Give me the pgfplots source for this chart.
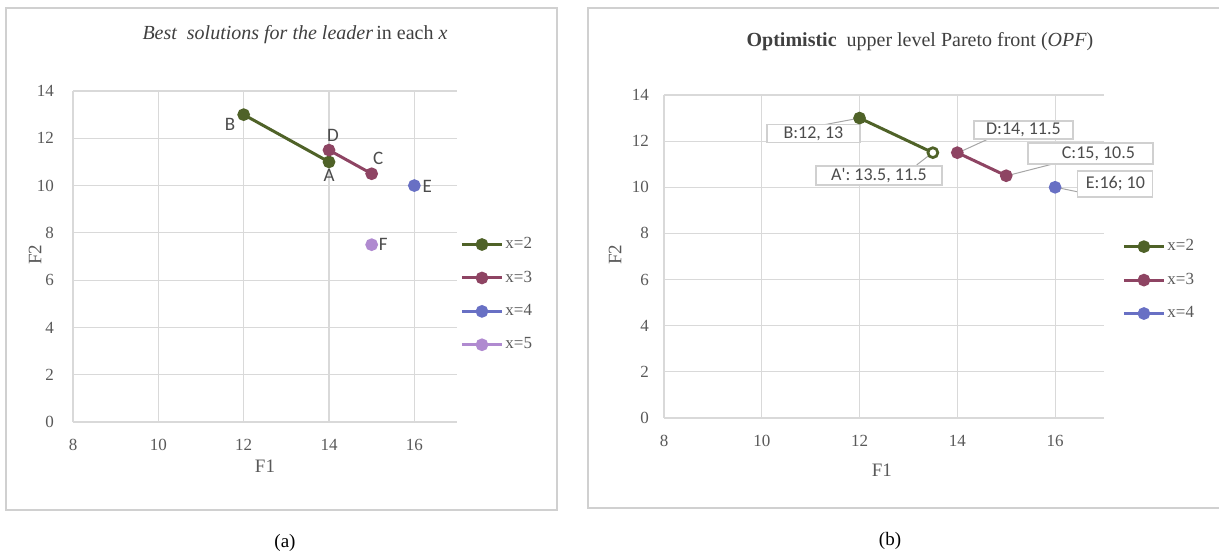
\documentclass[border=0pt]{standalone}
\usepackage{fontspec}
\setmainfont{Liberation Serif}
\newfontfamily\carl{Carlito}
\usepackage{pgfplots}
\pgfplotsset{compat=1.18}
\definecolor{cg}{HTML}{4F6228}
\definecolor{cr}{HTML}{8E4463}
\definecolor{cb}{HTML}{6870C4}
\definecolor{cp}{HTML}{B08AD0}
\definecolor{gridc}{HTML}{D9D9D9}
\definecolor{framec}{HTML}{D0D0D0}
\definecolor{tickc}{HTML}{595959}
\definecolor{leadc}{HTML}{A6A6A6}
\pgfplotsset{
  common/.style={
    anchor=south west, scale only axis, clip=false,
    xmin=8, xmax=17, ymin=0, ymax=14,
    xtick={8,10,12,14,16}, ytick={0,2,4,6,8,10,12,14},
    axis x line=bottom, axis y line=left,
    axis line style={-, draw=gridc, line width=0.7pt},
    grid=major, grid style={gridc, line width=0.6pt},
    major tick length=0pt,
    /pgf/number format/assume math mode=true,
    tick label style={font=\fontsize{8.5}{9}\selectfont, text=tickc},
    xticklabel style={yshift=-5pt},
    label style={font=\fontsize{9.5}{10}\selectfont, text=tickc},
    xlabel={F1}, ylabel={F2},
    legend cell align=left,
    legend image code/.code={\draw[#1, mark repeat=2, mark phase=2] plot coordinates {(0pt,0pt) (10pt,0pt) (20pt,0pt)};},
    every axis plot/.append style={line width=1.5pt, mark=*, mark size=2.4pt},
  },
}
\begin{document}
\begin{tikzpicture}
\path[use as bounding box] (0pt,0pt) rectangle (609.5pt,278pt);
\draw[framec, line width=0.6pt] (3pt,274pt) rectangle (278.5pt,23pt);
\draw[framec, line width=0.6pt] (294pt,274pt) rectangle (615pt,24pt);
\node[font=\fontsize{9.5}{11}\selectfont] at (142.5pt,6.5pt) {(a)};
\node[font=\fontsize{9.5}{11}\selectfont] at (445pt,7.5pt) {(b)};
\node[font=\fontsize{10}{12}\selectfont, text=black!75] at (147.5pt,260.5pt) {\textit{Best\ \ solutions for the leader}\,in each \textit{x}};
\node[font=\fontsize{10}{12}\selectfont, text=black!75] at (460pt,257pt) {\textbf{Optimistic}\ \ upper level Pareto front (\textit{OPF})};

\begin{axis}[common, at={(36.5pt,67pt)}, width=192pt, height=165.5pt,
  yticklabel style={xshift=-6pt},
  xlabel style={at={(rel axis cs:0.5,-0.133)}, anchor=center},
  ylabel style={at={(rel axis cs:-0.099,0.505)}, anchor=center, rotate=0},
  legend style={at={(rel axis cs:1.008,0.565)}, anchor=north west, draw=none, fill=none,
    font=\fontsize{8.5}{10}\selectfont, text=tickc, row sep=7.6pt, inner sep=0pt, nodes={inner sep=1pt}},
]
\addplot[cg] coordinates {(12,13) (14,11)};
\addlegendentry{x=2}
\addplot[cr] coordinates {(14,11.5) (15,10.5)};
\addlegendentry{x=3}
\addplot[cb] coordinates {(16,10)};
\addlegendentry{x=4}
\addplot[cp] coordinates {(15,7.5)};
\addlegendentry{x=5}
\begin{scope}[every node/.style={font=\carl\fontsize{9.5}{10}\selectfont, text=black!70}]
\node at (axis cs:11.68,12.6) {B};
\node at (axis cs:14.09,12.14) {D};
\node at (axis cs:14.0,10.41) {A};
\node at (axis cs:15.15,11.17) {C};
\node at (axis cs:16.3,9.98) {E};
\node at (axis cs:15.27,7.53) {F};
\end{scope}
\end{axis}

\begin{axis}[common, at={(332pt,69pt)}, width=220pt, height=161.5pt,
  yticklabel style={xshift=-4pt},
  xlabel style={at={(rel axis cs:0.495,-0.161)}, anchor=center},
  ylabel style={at={(rel axis cs:-0.111,0.505)}, anchor=center, rotate=0},
  legend style={at={(rel axis cs:1.041,0.560)}, anchor=north west, draw=none, fill=none,
    font=\fontsize{8.5}{10}\selectfont, text=tickc, row sep=7.6pt, inner sep=0pt, nodes={inner sep=1pt}},
]
\addplot[cg] coordinates {(12,13) (13.5,11.5)};
\addlegendentry{x=2}
\addplot[cr] coordinates {(14,11.5) (15,10.5)};
\addlegendentry{x=3}
\addplot[cb] coordinates {(16,10)};
\addlegendentry{x=4}
\addplot[cg, only marks, mark=*, mark size=2.1pt, line width=0.7pt, mark options={fill=white}, forget plot] coordinates {(13.5,11.5)};
\begin{scope}[leadc, line width=0.5pt]
\draw (axis cs:11.25,12.70) -- (axis cs:11.95,12.98);
\draw (axis cs:13.17,10.97) -- (axis cs:13.45,11.43);
\draw (axis cs:14.05,11.53) -- (axis cs:14.63,12.09);
\draw (axis cs:15.05,10.52) -- (axis cs:15.955,11.01);
\draw (axis cs:16.06,9.98) -- (axis cs:16.466,9.80);
\end{scope}
\begin{scope}[every node/.style={draw=framec, fill=white, line width=0.6pt, inner sep=0pt, align=center, font=\carl\fontsize{9}{10}\selectfont, text=black!70}]
\node[minimum width=46.5pt, minimum height=8.8pt] at (axis cs:11.057,12.33) {B:12, 13};
\node[minimum width=63pt, minimum height=9.5pt] at (axis cs:12.397,10.51) {A': 13.5, 11.5};
\node[minimum width=49.5pt, minimum height=9pt] at (axis cs:15.352,12.48) {D:14, 11.5};
\node[minimum width=62.5pt, minimum height=10.5pt] at (axis cs:16.722,11.465) {\hspace*{8pt}C:15, 10.5};
\node[minimum width=37.5pt, minimum height=13pt] at (axis cs:17.233,10.14) {E:16; 10};
\end{scope}
\end{axis}
\end{tikzpicture}
\end{document}
